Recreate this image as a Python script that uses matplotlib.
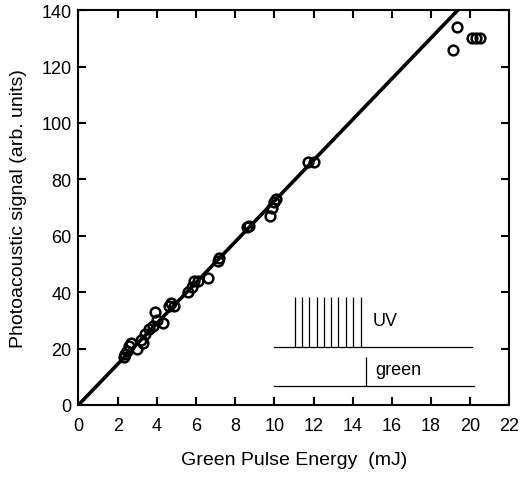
import numpy as np
import matplotlib
matplotlib.use("Agg")
import matplotlib.pyplot as plt

# measured points (green pulse energy in mJ, photoacoustic signal)
energy = [2.3, 2.4, 2.5, 2.6, 2.7, 3.0, 3.2, 3.3, 3.4, 3.6, 3.8, 3.9, 4.0, 4.3,
          4.6, 4.7, 4.9, 5.6, 5.8, 5.9, 6.1, 6.6, 7.1, 7.2, 8.6, 8.7, 9.8, 9.9,
          10.0, 10.1, 11.7, 12.0, 19.1, 19.3, 20.1, 20.3, 20.5]
signal = [17, 18, 19, 21, 22, 20, 23, 22, 25, 27, 28, 33, 30, 29,
          35, 36, 35, 40, 42, 44, 44, 45, 51, 52, 63, 63.5, 67, 70,
          72, 73, 86, 86, 126, 134, 130, 130, 130]

fit_x = [0, 22]
slope = 7.23

# inset pulse sketch
uv_pulses = [11.05, 11.42, 11.79, 12.16, 12.53, 12.9, 13.27, 13.64, 14.01, 14.4]
green_pulse = 14.7

plt.rcParams['font.family'] = ['Liberation Sans', 'DejaVu Sans']
fig = plt.figure(figsize=(5.23, 4.85), dpi=100)
ax = fig.add_axes([0.150, 0.163, 0.824, 0.814])

fx = np.array(fit_x)
ax.plot(fx, slope * fx, color='black', lw=2.6, zorder=2)
ax.plot(energy, signal, 'o', mfc='none', mec='black', ms=7, mew=1.8, zorder=3)

# inset
ax.plot([10.0, 20.1], [20.6, 20.6], color='black', lw=0.9)
ax.vlines(uv_pulses, 20.6, 38.3, color='black', lw=0.9)
ax.text(15.0, 29.8, 'UV', fontsize=13, va='center', ha='left')
ax.plot([10.0, 20.2], [6.7, 6.7], color='black', lw=0.9)
ax.vlines([green_pulse], 6.7, 17, color='black', lw=0.9)
ax.text(15.15, 12.6, 'green', fontsize=13, va='center', ha='left')

ax.set_xlim(0, 22)
ax.set_ylim(0, 140)
ax.set_xticks(np.arange(0, 23, 2))
ax.set_yticks(np.arange(0, 141, 20))
ax.tick_params(direction='in', length=6, width=1.5, top=True, right=True,
               labelsize=13)
ax.tick_params(axis='x', pad=9)
ax.tick_params(axis='y', pad=5)
for s in ax.spines.values():
    s.set_linewidth(1.5)
ax.set_xlabel('Green Pulse Energy  (mJ)', fontsize=14, labelpad=12)
ax.set_ylabel('Photoacoustic signal (arb. units)', fontsize=14, labelpad=10)

fig.savefig('out.png', dpi=100)
